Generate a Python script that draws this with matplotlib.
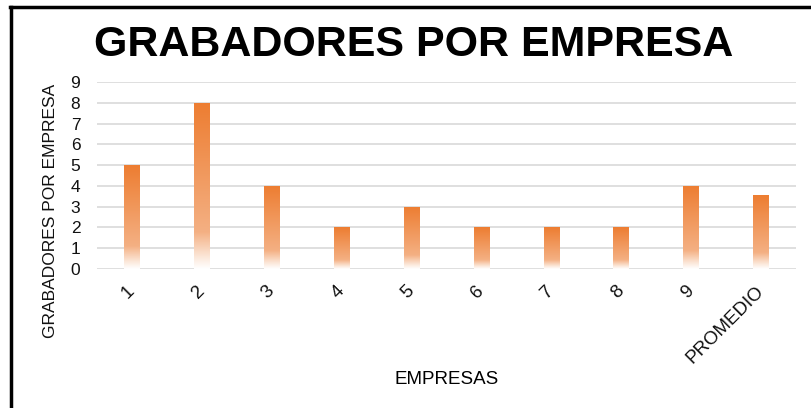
import numpy as np
import matplotlib.pyplot as plt
from matplotlib.colors import LinearSegmentedColormap
from matplotlib.lines import Line2D

plt.rcParams['font.family'] = ['Liberation Sans', 'DejaVu Sans']

# Datos
empresas = ['1', '2', '3', '4', '5', '6', '7', '8', '9', 'PROMEDIO']
grabadores = [5, 8, 4, 2, 3, 2, 2, 2, 4, 3.56]

# degradado naranja -> blanco (abajo)
degradado = LinearSegmentedColormap.from_list(
    'naranja', [(0.0, '#FFFFFF'), (0.06, '#FCEBDF'), (0.22, '#F4B083'), (1.0, '#ED7D31')])

fig = plt.figure(figsize=(8.12, 4.08), dpi=100)
ax = fig.add_axes([0.1195, 0.3407, 0.8605, 0.4583])

x = np.arange(len(empresas))
ancho = 0.22
barras = ax.bar(x, grabadores, width=ancho, color='none', edgecolor='none', zorder=3)

grad = np.linspace(1, 0, 256).reshape(-1, 1)
for xi, h, b in zip(x, grabadores, barras):
    im = ax.imshow(grad, cmap=degradado, aspect='auto', vmin=0, vmax=1,
                   extent=[xi - ancho / 2, xi + ancho / 2, 0, h], zorder=3)
    im.set_clip_path(b)

ax.set_xlim(-0.5, len(empresas) - 0.5)
ax.set_ylim(0, 9)
ax.set_yticks(range(10))
ax.set_xticks(x)
ax.set_xticklabels(empresas, rotation=45, ha='right', va='center', rotation_mode='anchor')

ax.yaxis.grid(True, color='#D9D9D9', linewidth=1.2, zorder=0)
ax.set_axisbelow(True)
for s in ax.spines.values():
    s.set_visible(False)
ax.tick_params(axis='both', length=0, labelsize=12.5, colors='#111111')
ax.tick_params(axis='y', pad=12)
ax.tick_params(axis='x', pad=14, labelsize=13.5)

ax.set_xlabel('EMPRESAS', fontsize=13.5)
ax.xaxis.set_label_coords(0.5, -0.545)

fig.text(0.062, 0.483, 'GRABADORES POR EMPRESA', rotation=90, fontsize=12.5,
         ha='center', va='center', color='#111111')

fig.text(0.51, 0.89, 'GRABADORES POR EMPRESA', fontsize=31, fontweight='bold',
         ha='center', va='center', color='#000000')

# marco
fig.add_artist(Line2D([0.0135, 0.0135], [0, 0.984], transform=fig.transFigure,
                      color='black', linewidth=2.5))
fig.add_artist(Line2D([0.0125, 1.0], [0.983, 0.983], transform=fig.transFigure,
                      color='black', linewidth=2.5))

fig.savefig('out.png', dpi=100)
